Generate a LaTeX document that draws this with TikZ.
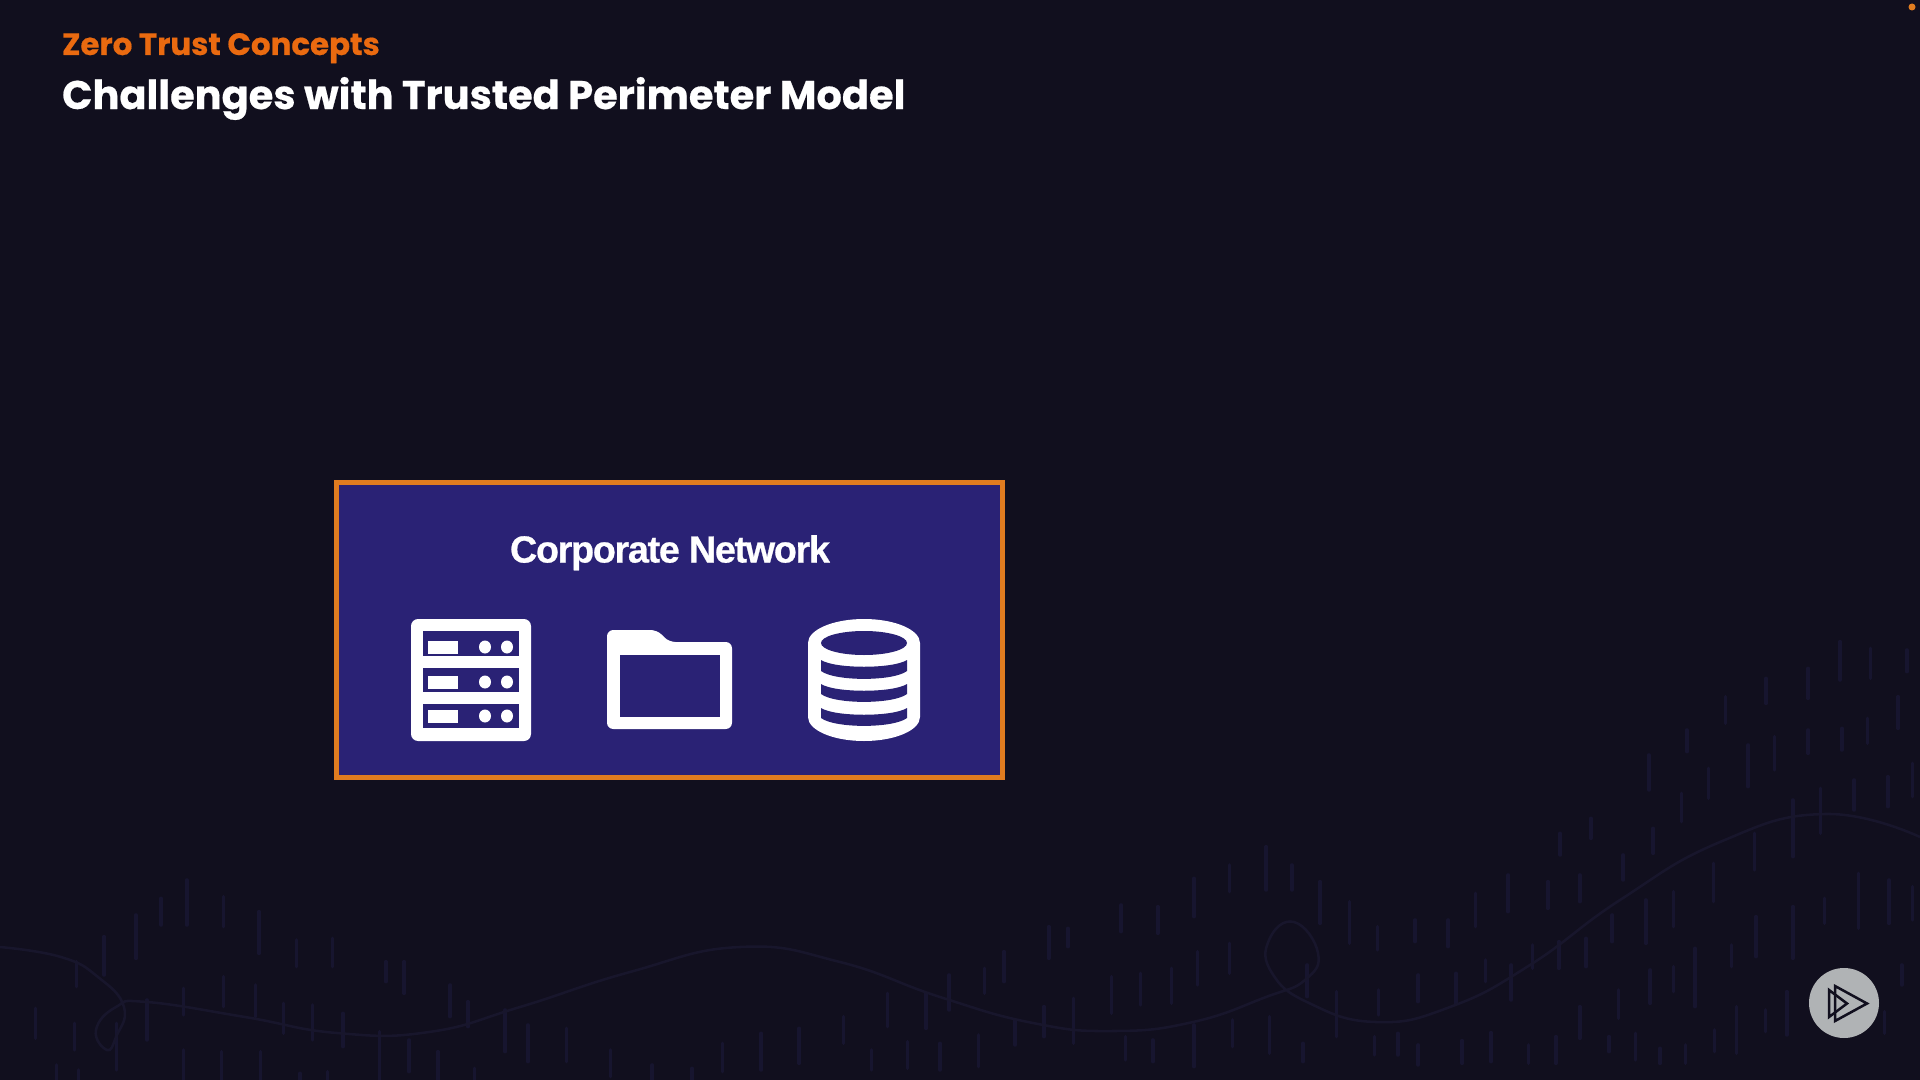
\documentclass[tikz,border=0pt]{standalone}
\usepackage{fontspec}
\setmainfont[BoldFeatures={FakeBold=0.5}]{Poppins}
\newfontfamily\labelfont[LetterSpace=-3.4,BoldFeatures={FakeBold=0.7}]{Liberation Sans}
\definecolor{slatebg}{HTML}{110F1E}
\definecolor{netfill}{HTML}{2A2275}
\definecolor{netedge}{HTML}{E07C20}
\definecolor{headorange}{HTML}{EA6A10}
\definecolor{rainmark}{HTML}{17152F}
\definecolor{wavemark}{HTML}{18162C}
\definecolor{badgegray}{HTML}{B0B3B5}
\newcommand{\rainbars}[1]{\foreach \xa/\ya/\yb in {#1} {\draw[rainbar] (\xa,\ya) -- (\xa,\yb);}}
\newcommand{\serverrow}[2]{
  \fill[netfill] (423,#1) rectangle ++(96,24.5);
  \fill[white] (428,#2) rectangle ++(30,12.5);
  \fill[white] (485,#2+6) circle [x radius=6,y radius=6.5];
  \fill[white] (507,#2+6) circle [x radius=6,y radius=6.5];
}
\newcommand{\dbrow}[2]{\fill[netfill] (821,#1) .. controls (835,#1+9) and (893,#1+9) .. (907,#1) -- (907,#2) .. controls (893,#2+10.5) and (835,#2+10.5) .. (821,#2) -- cycle;}
\tikzset{
  rainbar/.style={rainmark,line width=5pt,line cap=round},
  wave/.style={wavemark,line width=3.6pt},
  netbox/.style={draw=netedge,fill=netfill,line width=7.1pt,minimum width=33.3cm,minimum height=14.75cm,inner sep=0pt},
  kicker/.style={text=headorange,font=\bfseries\fontsize{43.9}{44}\selectfont,anchor=base west,inner sep=0pt},
  headline/.style={text=white,font=\bfseries\fontsize{56.8}{57}\selectfont,anchor=base west,inner sep=0pt},
  netlabel/.style={text=white,font=\labelfont\bfseries\fontsize{53.6}{54}\selectfont,anchor=base,inner sep=0pt},
  logotri/.style={draw=slatebg,line width=3.6pt,miter limit=6},
}
\begin{document}
\begin{tikzpicture}[x=0.05cm,y=-0.05cm]
  \fill[slatebg] (0,0) rectangle (1920,1080);
  \useasboundingbox (0,0) rectangle (1920,1080);

  % background texture
  \begin{scope}[shift={(0,840)},xscale=0.6124,yscale=0.3333]
    \rainbars{305/120/255,263/175/255,365/170/260,222/225/355,170/290/405,423/215/340,484/300/380,543/295/380,630/365/425,660/365/460,125/365/440,365/410/500,300/445/525,417/435/530,735/435/530,764/485/560,463/490/580,510/495/600,560/520/620,240/480/600,58/505/595,122/550/630,190/550/690,825/510/635,862/555/665,925/565/665,620/575/720,668/600/695,715/635/720,300/630/720,362/635/720,425/635/720,997/630/710,1180/610/695,1243/580/690,1305/565/670,1377/530/610,1449/460/560,1512/460/565,1550/405/510,1423/630/690,1482/605/685,1535/610/690,92/675/720,128/690/720,1065/675/720,1130/685/720,490/700/720,535/695/720,775/685/720}
  \end{scope}
  \begin{scope}[shift={(960,620)},xscale=0.6124,yscale=0.3333]
    \rainbars{1437/65/180,1487/85/175,1546/90/155,1385/145/235,1316/175/250,1250/230/310,1532/230/325,1187/330/395,1385/330/400,1440/325/390,1482/295/370,1330/350/450,1287/375/500,1125/405/510,1222/445/535,1555/430/530,1460/480/570,1515/470/560,1178/520/605,1405/505/640,1360/540/710,1030/595/655,980/640/705,1132/625/700,1297/640/750,500/680/810,440/735/815,382/775/890,542/735/810,588/785/910,1083/705/780,1230/730/845,895/765/875,960/785/865,1012/765/845,842/820/920,1467/760/925,1517/780/910,1555/800/900,636/845/970,263/855/935,323/860/940,1165/815/920,1120/840/970,1412/835/910,1360/860/1015,145/920/1015,176/925/980,743/900/965,797/900/980,682/920/990,1065/885/965,978/965/1045,1022/955/1040,935/975/1045,72/995/1085,40/1045/1120,440/970/1060,388/995/1095,345/1045/1150,295/1060/1155,247/1070/1180,858/1020/1085,900/1035/1140,810/1060/1150,748/1065/1145,1300/890/1010,1260/975/1040,1200/985/1160,1127/1050/1150,1165/1040/1115,567/1035/1130,615/1115/1250,683/1110/1185,1075/1110/1195,1012/1160/1255,1350/1115/1245,1538/1035/1095,185/1135/1270,137/1160/1250,90/1200/1275,30/1245/1340,270/1250/1320,315/1260/1325,382/1215/1340,445/1200/1280,505/1190/1300,560/1270/1325,677/1250/1305,715/1240/1305,748/1275/1335,820/1262/1330,867/1238/1325,928/1275/1330,973/1250/1330,1060/1250/1295,1103/1240/1320,1143/1285/1330,1185/1275/1330,1232/1230/1295,1268/1160/1300,1315/1170/1235,1510/1175/1240}
  \end{scope}
  \draw[wave] plot[smooth,tension=0.8] coordinates {(0,947) (61,957) (98,977) (124,1007) (116,1037) (107,1050) (96,1030) (116,1007) (147,1002) (245,1017) (337,1033) (429,1032) (520,1007) (630,972) (740,947) (840,962) (940,997) (1033,1023) (1113,1031) (1193,1022) (1266,997) (1305,980) (1318,953) (1294,922) (1269,940) (1272,973) (1309,1003) (1376,1022) (1450,1007) (1530,965) (1620,900) (1720,842) (1825,814) (1920,837)};

  % headings
  \node[kicker] (kickertext) at (62,55) {Zero Trust Concepts};
  \node[headline] (headtext) at (62,109) {Challenges with Trusted Perimeter Model};

  % corporate network box
  \node[netbox] (network) at (669.5,630) {};
  \node[netlabel] (networklabel) at (670,562.5) {Corporate Network};

  % server
  \fill[white,rounded corners=10pt] (411,619) rectangle (531,741);
  \serverrow{631}{641}
  \serverrow{667.5}{676}
  \serverrow{703.5}{710}

  % folder
  \fill[white,rounded corners=9pt] (607,729) -- (607,630) -- (657,630) -- (669,642) -- (732,642) -- (732,729) -- cycle;
  \fill[netfill] (620,655) rectangle (720,717);

  % database
  \fill[white] (808,643) arc [start angle=180,end angle=360,x radius=56,y radius=24] -- (920,717) arc [start angle=0,end angle=180,x radius=56,y radius=24] -- cycle;
  \fill[netfill] (864,643) circle [x radius=43,y radius=12];
  \dbrow{660}{671}
  \dbrow{684}{694}
  \dbrow{708}{718}

  % badge
  \fill[badgegray] (1844,1003) circle [radius=35];
  \draw[logotri] (1835,986) -- (1867,1003.5) -- (1835,1021) -- cycle;
  \draw[logotri] (1829,990) -- (1847,1003.5) -- (1829,1017) -- cycle;

  \fill[netedge] (1912,7) circle [radius=3.5];
\end{tikzpicture}
\end{document}
